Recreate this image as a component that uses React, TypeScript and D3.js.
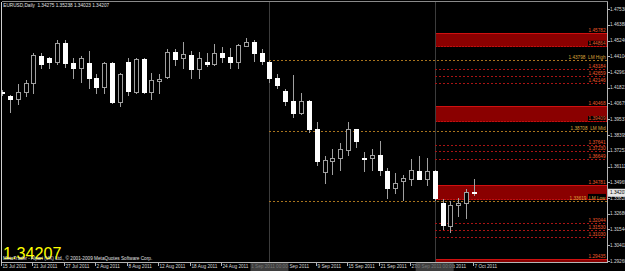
import React, { useEffect } from "react";
import * as d3 from "d3";

const W = 625;
const H = 271;

// EURUSD Daily, 15 Jul 2011 .. 7 Oct 2011 (61 bars)
const opens = [1.4151, 1.4122, 1.4101, 1.4151, 1.4217, 1.4412, 1.4398, 1.4369, 1.4507, 1.4362, 1.4325, 1.4362, 1.4253, 1.4188, 1.4362, 1.4079, 1.4369, 1.4151, 1.4391, 1.4151, 1.4231, 1.4260, 1.4441, 1.4398, 1.4420, 1.4318, 1.4369, 1.4354, 1.4434, 1.4405, 1.4369, 1.4485, 1.4514, 1.4434, 1.4369, 1.4253, 1.4159, 1.4086, 1.3999, 1.4086, 1.3883, 1.3571, 1.3651, 1.3673, 1.3731, 1.3883, 1.3673, 1.3673, 1.3695, 1.3579, 1.3455, 1.3506, 1.3521, 1.3579, 1.3521, 1.3579, 1.3347, 1.3180, 1.3332, 1.3347, 1.34275];
const highs = [1.4166, 1.4130, 1.4209, 1.4238, 1.4434, 1.4434, 1.4405, 1.4528, 1.4528, 1.4398, 1.4412, 1.4449, 1.4282, 1.4369, 1.4369, 1.4289, 1.4398, 1.4398, 1.4398, 1.4289, 1.4282, 1.4463, 1.4463, 1.4514, 1.4449, 1.4441, 1.4434, 1.4499, 1.4478, 1.4470, 1.4499, 1.4543, 1.4528, 1.4463, 1.4376, 1.4282, 1.4173, 1.4275, 1.4144, 1.4093, 1.3934, 1.3687, 1.3738, 1.3782, 1.3934, 1.3885, 1.3716, 1.3738, 1.3796, 1.3600, 1.3564, 1.3550, 1.3666, 1.3687, 1.3673, 1.3586, 1.3376, 1.3361, 1.3383, 1.3448, 1.35238];
const lows = [1.4130, 1.4006, 1.4064, 1.4122, 1.4144, 1.4325, 1.4325, 1.4354, 1.4333, 1.4253, 1.4224, 1.4180, 1.4144, 1.4144, 1.4075, 1.4050, 1.4130, 1.4144, 1.4144, 1.4101, 1.4144, 1.4253, 1.4347, 1.4325, 1.4253, 1.4253, 1.4340, 1.4350, 1.4369, 1.4325, 1.4325, 1.4483, 1.4376, 1.4354, 1.4224, 1.4180, 1.4057, 1.3970, 1.3992, 1.3861, 1.3622, 1.3492, 1.3557, 1.3586, 1.3695, 1.3753, 1.3579, 1.3586, 1.3550, 1.3383, 1.3419, 1.3368, 1.3477, 1.3519, 1.3477, 1.3368, 1.3158, 1.3136, 1.3252, 1.3238, 1.34023];
const closes = [1.4144, 1.4101, 1.4151, 1.4217, 1.4420, 1.4354, 1.4369, 1.4507, 1.4362, 1.4325, 1.4398, 1.4253, 1.4188, 1.4362, 1.4079, 1.4282, 1.4159, 1.4391, 1.4151, 1.4238, 1.4246, 1.4441, 1.4391, 1.4427, 1.4318, 1.4398, 1.4354, 1.4434, 1.4405, 1.4369, 1.4492, 1.4514, 1.4434, 1.4376, 1.4253, 1.4202, 1.4086, 1.3999, 1.4086, 1.3883, 1.3651, 1.3658, 1.3673, 1.3738, 1.3883, 1.3796, 1.3669, 1.3695, 1.3586, 1.3455, 1.3492, 1.3528, 1.3586, 1.3521, 1.3579, 1.3383, 1.3187, 1.3332, 1.3347, 1.3426, 1.34207];

const dateLabels = ["15 Jul 2011", "21 Jul 2011", "27 Jul 2011", "2 Aug 2011", "8 Aug 2011", "12 Aug 2011", "18 Aug 2011", "24 Aug 2011", "30 Aug 2011", "5 Sep 2011", "9 Sep 2011", "15 Sep 2011", "21 Sep 2011", "27 Sep 2011", "3 Oct 2011", "7 Oct 2011"];
const dateLabelBars = [0, 4, 8, 12, 16, 20, 24, 28, 32, 36, 40, 44, 48, 52, 56, 60];

const priceTicks = [1.4753, 1.46388, 1.45246, 1.44104, 1.42963, 1.41821, 1.40679, 1.39537, 1.38395, 1.37253, 1.36111, 1.34969, 1.33828, 1.32686, 1.31544, 1.30402, 1.2926];

const vLineBars = [34, 55];
const vLineLabels = ["1 Sep 2011 00:00", "30 Sep 2011 00:00"];

const zoneTops = [1.45782, 1.40468, 1.34781, 1.29435];
const zoneBottoms = [1.44864, 1.39409, 1.3376, 1.288];

const redLevels = [1.43184, 1.42659, 1.42146, 1.37641, 1.3723, 1.36649, 1.32044, 1.3153, 1.3103];
const lmLevels = [1.43798, 1.38708, 1.33619];
const lmNames = ["LM High", "LM Mid", "LM Low"];

const FONT = "'Liberation Sans', Arial, sans-serif";
const FS = 4.7;

export default function App() {
  useEffect(() => {
    document.body.style.margin = "0";
    document.body.style.background = "#000";
  }, []);

  const y = d3.scaleLinear().domain([1.2926, 1.4753]).range([261, 9]);
  const x = d3.scaleLinear().domain([0, 60]).range([2, 474]);
  const L = 1.5, R = 607.5, T = 1.5, B = 262.5;
  const fmt = d3.format(".5f");
  const last = closes.length - 1;
  const levelStart = Math.round(x(vLineBars[1]));
  const lmStart = Math.round(x(vLineBars[0]));
  const zoneColor = "#8a0000";
  const redText = "#f0582a";
  const lmText = "#d8a23a";

  return (
    <svg width={W} height={H} style={{ display: "block", position: "absolute", left: 0, top: 0 }} fontFamily={FONT}>
      <defs>
        <clipPath id="plot">
          <rect x={L} y={T} width={R - L} height={B - T} />
        </clipPath>
      </defs>
      <rect x={0} y={0} width={W} height={H} fill="#000" />

      <g clipPath="url(#plot)" shapeRendering="crispEdges">
        {zoneTops.map((t, i) => {
          const yt = Math.round(y(t)) + 0.5;
          const yb = Math.round(y(zoneBottoms[i])) + 0.5;
          return (
            <g key={"z" + i}>
              <rect x={levelStart} y={yt} width={R - levelStart} height={yb - yt} fill={zoneColor} />
              <line x1={levelStart} x2={R} y1={yt} y2={yt} stroke="#d01010" />
              <line x1={levelStart} x2={R} y1={yb} y2={yb} stroke="#c01010" strokeDasharray="2 1" />
            </g>
          );
        })}
        {vLineBars.map((b, i) => {
          const vx = Math.round(x(b)) + 0.5;
          return <line key={"v" + i} x1={vx} x2={vx} y1={T} y2={B} stroke="#3c3c3c" />;
        })}
        {redLevels.map((p, i) => {
          const ly = Math.round(y(p)) + 0.5;
          return <line key={"r" + i} x1={levelStart} x2={R} y1={ly} y2={ly} stroke="#a81414" strokeDasharray="2 2" />;
        })}
        {lmLevels.map((p, i) => {
          const ly = Math.round(y(p)) + 0.5;
          return <line key={"lm" + i} x1={lmStart} x2={R} y1={ly} y2={ly} stroke="#a8741e" strokeDasharray="2 2" />;
        })}
        {opens.map((o, i) => {
          const c = closes[i];
          const bull = c > o;
          const cx = Math.round(x(i));
          const yt = Math.round(y(Math.max(o, c)));
          const yb = Math.round(y(Math.min(o, c)));
          const h = Math.max(1, yb - yt);
          return (
            <g key={"c" + i}>
              <line x1={cx + 0.5} x2={cx + 0.5} y1={Math.round(y(highs[i]))} y2={Math.round(y(lows[i])) + 1} stroke="#a0a0a0" />
              <rect x={cx - 1.5} y={yt + 0.5} width={4} height={h} fill={bull ? "#000" : "#fff"} stroke={bull ? "#a0a0a0" : "#fff"} />
            </g>
          );
        })}
      </g>

      <g fontSize={FS} textAnchor="end">
        {zoneTops.map((t, i) => {
          const yt = y(t);
          const yb = y(zoneBottoms[i]);
          const clash = lmLevels.some((p) => Math.abs(y(p) - yb) < 4);
          return (
            <g key={"zl" + i}>
              <text x={R - 2} y={yt - 1} fill={redText}>{fmt(t)}</text>
              {yb < B && (
                <g>
                  <rect x={R - 19.5} y={yb - 5} width={18} height={5} fill="#000" />
                  {!clash && <text x={R - 2} y={yb - 0.8} fill={redText}>{fmt(zoneBottoms[i])}</text>}
                </g>
              )}
            </g>
          );
        })}
        {redLevels.map((p, i) => (
          <text key={"rl" + i} x={R - 2} y={y(p) - 1} fill={redText}>{fmt(p)}</text>
        ))}
        {lmLevels.map((p, i) => (
          <text key={"lml" + i} x={R - 2} y={y(p) - 1} fill={lmText} style={{ whiteSpace: "pre" }}>
            {fmt(p) + "  " + lmNames[i]}
          </text>
        ))}
      </g>

      <g shapeRendering="crispEdges" stroke="#b4b4b4">
        <line x1={L} x2={R} y1={T} y2={T} stroke="#8a8a8a" />
        <line x1={L} x2={L} y1={T} y2={B} stroke="#cfcfcf" />
        <line x1={R} x2={R} y1={T} y2={B} />
        <line x1={L} x2={R} y1={B} y2={B} />
        {priceTicks.map((p, i) => (
          <line key={"pt" + i} x1={R} x2={R + 2.5} y1={Math.round(y(p)) + 0.5} y2={Math.round(y(p)) + 0.5} />
        ))}
        {dateLabelBars.map((b, i) => (
          <line key={"dt" + i} x1={Math.round(x(b)) - 0.5} x2={Math.round(x(b)) - 0.5} y1={B} y2={B + 3} />
        ))}
      </g>
      <g fontSize={FS} fill="#d8d8d8">
        {priceTicks.map((p, i) => (
          <text key={"ptl" + i} x={R + 2.5} y={y(p) + 1.7}>{fmt(p)}</text>
        ))}
        {dateLabels.map((d, i) => (
          <text key={"dl" + i} x={Math.round(x(dateLabelBars[i])) + 0.5} y={268.3}>{d}</text>
        ))}
      </g>
      {vLineBars.map((b, i) => {
        const vx = x(b);
        return (
          <g key={"vb" + i}>
            <rect x={vx - 19} y={263} width={38} height={8} fill="#3e3e3e" />
            <text x={vx} y={268.3} fontSize={FS} fill="#777" textAnchor="middle">{vLineLabels[i]}</text>
          </g>
        );
      })}
      <rect x={R + 0.5} y={y(closes[last]) - 4} width={W - R} height={8} fill="#e6e6e6" />
      <text x={R + 2.5} y={y(closes[last]) + 1.7} fontSize={FS} fill="#000">{fmt(closes[last])}</text>

      <text x={3.3} y={7.4} fontSize={FS} fill="#e0e0e0" style={{ whiteSpace: "pre" }}>
        {"EURUSD,Daily  " + [opens[last], highs[last], lows[last], closes[last]].map(fmt).join(" ")}
      </text>
      <text x={3} y={259} fontSize={16.2} fill="#ffff00">{fmt(closes[last])}</text>
      <text x={3} y={260} fontSize={FS} fill="#e0e0e0">
        MetaTrader - Alpari (UK) Ltd., © 2001-2009 MetaQuotes Software Corp.
      </text>
    </svg>
  );
}
